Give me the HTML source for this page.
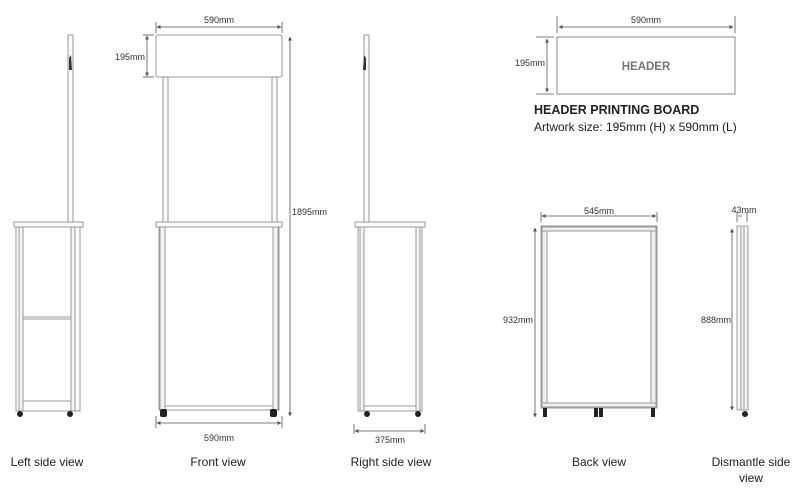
<!DOCTYPE html>
<html><head><style>
body{margin:0;background:#fff;}
svg{display:block;font-family:"Liberation Sans",Arial,sans-serif;}
</style></head><body>
<svg width="800" height="494" viewBox="0 0 800 494" xmlns="http://www.w3.org/2000/svg">
<defs>
<marker id="a" viewBox="0 0 10 10" refX="9" refY="5" markerWidth="5" markerHeight="5" orient="auto-start-reverse"><path d="M0,0L10,5L0,10z" fill="#555"/></marker>
</defs>
<g fill="none" stroke="#999" stroke-width="1">
<!-- Left side view -->
<rect x="68" y="35" width="5" height="188" fill="#fafafa"/>
<path d="M69,58 L71,55 L72,70 L69,70z" fill="#333" stroke="none"/>
<rect x="14" y="222" width="69" height="5" fill="#fafafa"/>
<rect x="16" y="227" width="64" height="184" fill="#fff"/>
<rect x="19" y="227" width="4" height="184" fill="#f4f4f4"/>
<rect x="71" y="227" width="4" height="184" fill="#f4f4f4"/>
<line x1="23" y1="317" x2="71" y2="317"/>
<line x1="23" y1="319" x2="71" y2="319"/>
<line x1="23" y1="401" x2="71" y2="401"/>
<circle cx="20" cy="414" r="3" fill="#222" stroke="none"/>
<circle cx="70" cy="414" r="3" fill="#222" stroke="none"/>

<!-- Front view -->
<rect x="156" y="35" width="126" height="42" rx="2" fill="#fff"/>
<rect x="163" y="77" width="5" height="145" fill="#fafafa"/>
<rect x="272" y="77" width="5" height="145" fill="#fafafa"/>
<rect x="156" y="222" width="126" height="5" fill="#fafafa"/>
<rect x="159" y="227" width="120" height="183" fill="#fff"/>
<rect x="160" y="227" width="5" height="183" fill="#f4f4f4"/>
<rect x="273" y="227" width="5" height="183" fill="#f4f4f4"/>
<line x1="165" y1="406" x2="273" y2="406"/>
<rect x="160" y="409" width="7" height="8" rx="2" fill="#222" stroke="none"/>
<rect x="270" y="409" width="7" height="8" rx="2" fill="#222" stroke="none"/>

<!-- Right side view -->
<rect x="364" y="35" width="5" height="188" fill="#fafafa"/>
<path d="M366,58 L364,55 L363,70 L366,70z" fill="#333" stroke="none"/>
<rect x="355" y="222" width="70" height="5" fill="#fafafa"/>
<rect x="358" y="227" width="64" height="184" fill="#fff"/>
<rect x="360" y="227" width="4" height="184" fill="#f4f4f4"/>
<rect x="416" y="227" width="4" height="184" fill="#f4f4f4"/>
<line x1="364" y1="406" x2="416" y2="406"/>
<circle cx="367" cy="414" r="3" fill="#222" stroke="none"/>
<circle cx="418" cy="414" r="3" fill="#222" stroke="none"/>

<!-- Header board -->
<rect x="557" y="37" width="178" height="57" stroke="#888"/>

<!-- Back view -->
<rect x="541" y="226" width="116" height="182" fill="#fff"/>
<rect x="542" y="227" width="5" height="180" fill="#eee"/>
<rect x="651" y="227" width="5" height="180" fill="#eee"/>
<rect x="542" y="227" width="114" height="4" fill="#eee"/>
<rect x="542" y="403" width="114" height="4" fill="#eee"/>
<rect x="543" y="408" width="4" height="9" fill="#222" stroke="none"/>
<rect x="594" y="408" width="4" height="9" fill="#222" stroke="none"/>
<rect x="599" y="408" width="4" height="9" fill="#222" stroke="none"/>
<rect x="651" y="408" width="4" height="9" fill="#222" stroke="none"/>

<!-- Dismantle -->
<rect x="737" y="226" width="11" height="184" fill="#f4f4f4"/>
<line x1="741" y1="227" x2="741" y2="410"/>
<line x1="744" y1="227" x2="744" y2="410"/>
<circle cx="745" cy="414" r="3" fill="#222" stroke="none"/>
</g>

<!-- dimension lines -->
<g stroke="#555" stroke-width="0.8" fill="none">
<line x1="157" y1="27" x2="281" y2="27" marker-start="url(#a)" marker-end="url(#a)"/>
<line x1="156" y1="22" x2="156" y2="33"/><line x1="282" y1="22" x2="282" y2="33"/>
<line x1="147" y1="36" x2="147" y2="76" marker-start="url(#a)" marker-end="url(#a)"/>
<line x1="143" y1="35" x2="154" y2="35"/><line x1="143" y1="77" x2="154" y2="77"/>
<line x1="290" y1="37" x2="290" y2="416" marker-start="url(#a)" marker-end="url(#a)"/>
<line x1="157" y1="423" x2="281" y2="423" marker-start="url(#a)" marker-end="url(#a)"/>
<line x1="156" y1="416" x2="156" y2="428"/><line x1="282" y1="416" x2="282" y2="428"/>
<line x1="355" y1="431" x2="424" y2="431" marker-start="url(#a)" marker-end="url(#a)"/>
<line x1="354" y1="424" x2="354" y2="434"/><line x1="425" y1="424" x2="425" y2="434"/>
<line x1="559" y1="27" x2="733" y2="27" marker-start="url(#a)" marker-end="url(#a)"/>
<line x1="557" y1="16" x2="557" y2="33"/><line x1="735" y1="16" x2="735" y2="33"/>
<line x1="547" y1="39" x2="547" y2="92" marker-start="url(#a)" marker-end="url(#a)"/>
<line x1="536" y1="37" x2="554" y2="37"/><line x1="536" y1="94" x2="554" y2="94"/>
<line x1="542" y1="216" x2="656" y2="216" marker-start="url(#a)" marker-end="url(#a)"/>
<line x1="541" y1="212" x2="541" y2="222"/><line x1="657" y1="212" x2="657" y2="222"/>
<line x1="535" y1="228" x2="535" y2="417" marker-start="url(#a)" marker-end="url(#a)"/>
<line x1="738" y1="216" x2="742" y2="216"/>
<line x1="737" y1="212" x2="737" y2="222"/><line x1="747" y1="212" x2="747" y2="222"/>
<line x1="732" y1="229" x2="732" y2="410" marker-start="url(#a)" marker-end="url(#a)"/>
</g>

<g fill="#333" font-size="9">
<text x="219" y="23" text-anchor="middle">590mm</text>
<text x="115" y="60">195mm</text>
<text x="292" y="215">1895mm</text>
<text x="219" y="441" text-anchor="middle">590mm</text>
<text x="390" y="443" text-anchor="middle">375mm</text>
<text x="646" y="23" text-anchor="middle">590mm</text>
<text x="515" y="66">195mm</text>
<text x="599" y="214" text-anchor="middle">545mm</text>
<text x="503" y="323">932mm</text>
<text x="744" y="213" text-anchor="middle">43mm</text>
<text x="701" y="323">888mm</text>
</g>
<text x="646" y="70" text-anchor="middle" font-size="11.5" font-weight="bold" fill="#777">HEADER</text>
<text x="534" y="114" font-size="12.5" font-weight="bold" fill="#222">HEADER PRINTING BOARD</text>
<text x="534" y="131" font-size="12" fill="#222">Artwork size: 195mm (H) x 590mm (L)</text>

<g fill="#222" font-size="12" text-anchor="middle">
<text x="47" y="466">Left side view</text>
<text x="218" y="466">Front view</text>
<text x="391" y="466">Right side view</text>
<text x="599" y="466">Back view</text>
<text x="751" y="466">Dismantle side</text>
<text x="751" y="482">view</text>
</g>
</svg>
</body></html>
